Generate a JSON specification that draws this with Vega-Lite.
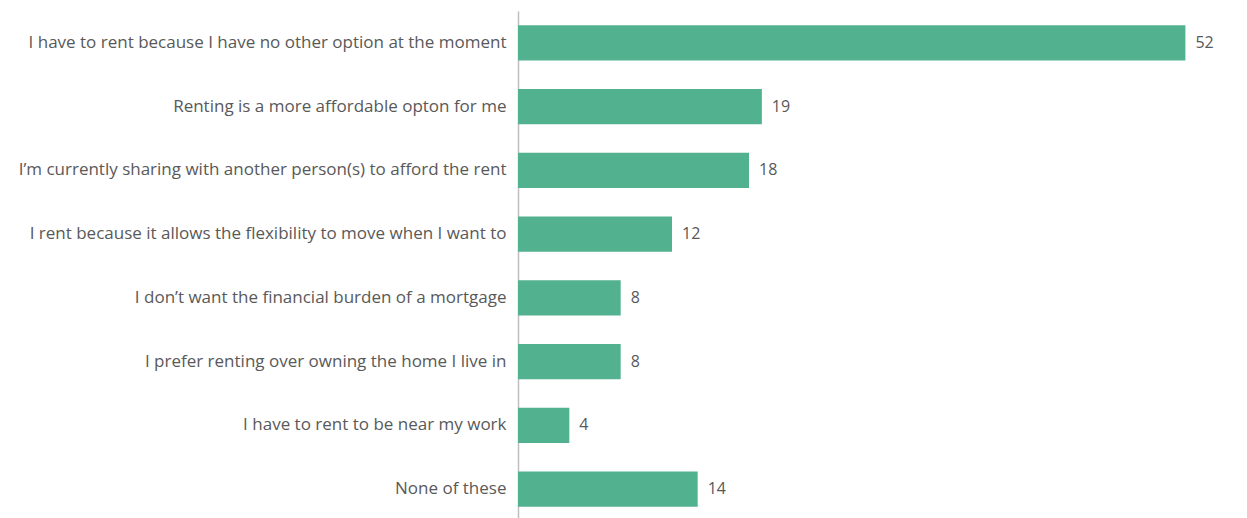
{
  "$schema": "https://vega.github.io/schema/vega-lite/v6.json",
  "autosize": {"type": "none"},
  "padding": {"left": 518, "top": 11, "right": 0, "bottom": 0},
  "width": 729,
  "height": 510,
  "background": "white",
  "config": {"view": {"stroke": null}, "font": "Open Sans"},
  "data": {"values": [
    {"reason": "I have to rent because I have no other option at the moment", "value": 52},
    {"reason": "Renting is a more affordable opton for me", "value": 19},
    {"reason": "I’m currently sharing with another person(s) to afford the rent", "value": 18},
    {"reason": "I rent because it allows the flexibility to move when I want to", "value": 12},
    {"reason": "I don’t want the financial burden of a mortgage", "value": 8},
    {"reason": "I prefer renting over owning the home I live in", "value": 8},
    {"reason": "I have to rent to be near my work", "value": 4},
    {"reason": "None of these", "value": 14}
  ]},
  "encoding": {
    "y": {"field": "reason", "type": "nominal", "sort": null,
      "scale": {"paddingInner": 0.45, "paddingOuter": 0.225},
      "axis": {"title": null, "ticks": false, "labelPadding": 12, "labelFontSize": 17, "labelColor": "#595959", "labelLimit": 600, "domainColor": "#bfbfbf", "domainWidth": 1.5, "labelFont": "Open Sans"}},
    "x": {"field": "value", "type": "quantitative", "scale": {"domain": [0, 56.8], "nice": false}, "axis": null}
  },
  "layer": [
    {"mark": {"type": "bar", "color": "#52b18f"}},
    {"mark": {"type": "text", "align": "left", "dx": 10, "fontSize": 16, "color": "#595959", "font": "Open Sans"},
     "encoding": {"text": {"field": "value", "type": "quantitative"}}}
  ]
}
